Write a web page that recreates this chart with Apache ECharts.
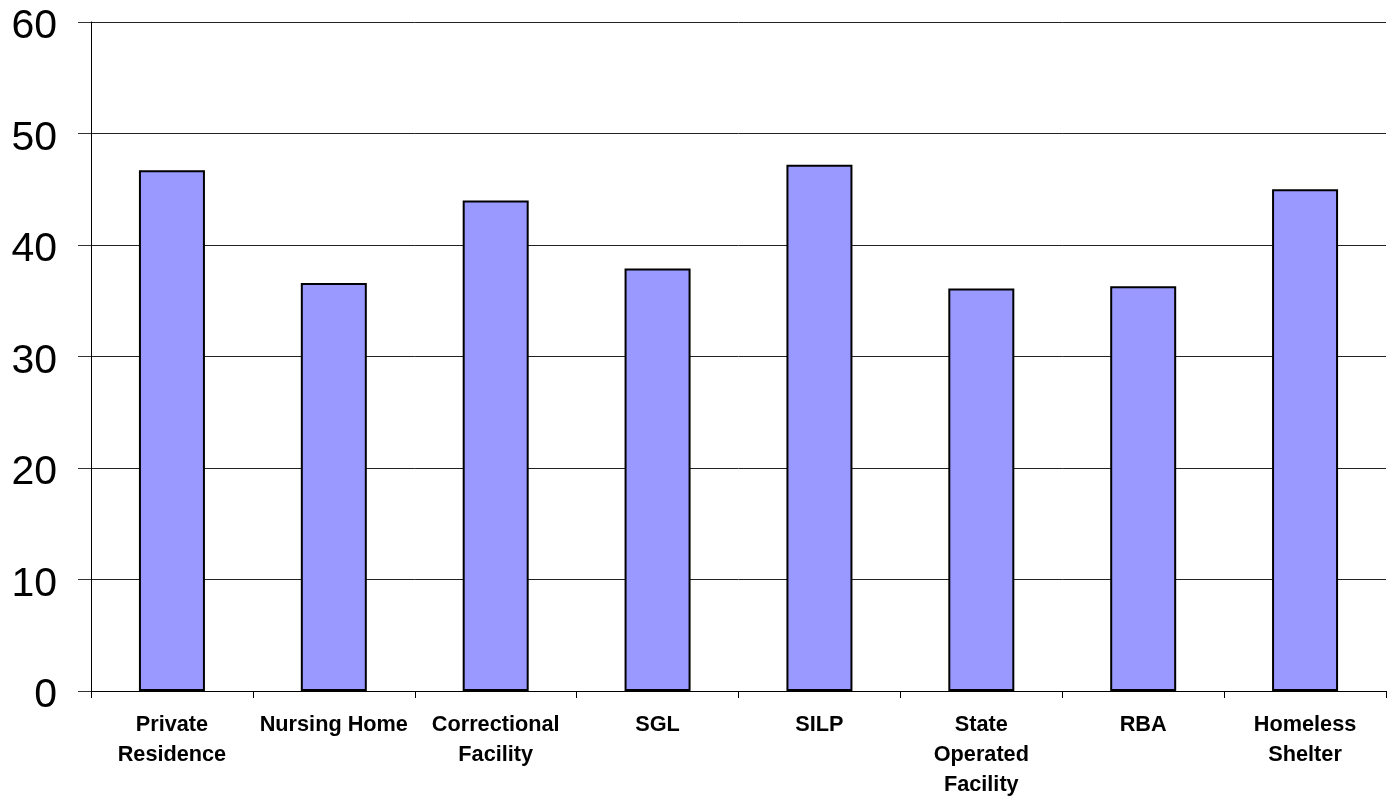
<!DOCTYPE html>
<html>
<head>
<meta charset="utf-8">
<script src="https://cdn.jsdelivr.net/npm/echarts@6/dist/echarts.min.js"></script>
<style>
html,body{margin:0;padding:0;background:#fff;overflow:hidden;}
#chart{width:1397px;height:800px;}
</style>
</head>
<body>
<div id="chart"></div>
<script>
const categories = ["Private Residence", "Nursing Home", "Correctional Facility", "SGL", "SILP", "State Operated Facility", "RBA", "Homeless Shelter"];
const tickLabels = ["Private\nResidence", "Nursing Home", "Correctional\nFacility", "SGL", "SILP", "State\nOperated\nFacility", "RBA", "Homeless\nShelter"];
const values = [46.7, 36.6, 44.0, 37.9, 47.2, 36.1, 36.3, 45.0];

const chart = echarts.init(document.getElementById('chart'), null, {renderer: 'canvas'});
chart.setOption({
  animation: false,
  backgroundColor: '#ffffff',
  grid: {left: 91, right: 11, top: 22, bottom: 108, containLabel: false},
  xAxis: {
    type: 'category',
    data: categories,
    boundaryGap: true,
    axisLine: {lineStyle: {color: '#000', width: 1}},
    axisTick: {show: true, length: 7, lineStyle: {color: '#000'}},
    axisLabel: {
      interval: 0,
      margin: 19,
      color: '#000',
      fontFamily: 'Liberation Sans, Arial, sans-serif',
      fontWeight: 'bold',
      fontSize: 21.7,
      lineHeight: 30,
      formatter: function (v, i) { return tickLabels[i]; }
    }
  },
  yAxis: {
    type: 'value',
    min: 0,
    max: 60,
    interval: 10,
    axisLine: {show: true, lineStyle: {color: '#000', width: 1}},
    axisTick: {show: true, length: 13, lineStyle: {color: '#333'}},
    splitLine: {show: true, lineStyle: {color: '#222', width: 1}},
    axisLabel: {
      margin: 34,
      color: '#000',
      fontFamily: 'Liberation Sans, Arial, sans-serif',
      fontSize: 41,
      formatter: '{a|{value}}',
      rich: {
        a: {
          fontFamily: 'Liberation Sans, Arial, sans-serif',
          fontSize: 41,
          color: '#000',
          padding: [10, 0, 0, 0]
        }
      }
    }
  },
  series: [{
    type: 'bar',
    data: values,
    barWidth: 66,
    itemStyle: {color: '#9999FF', borderColor: '#000', borderWidth: 2}
  }]
});
</script>
</body>
</html>
